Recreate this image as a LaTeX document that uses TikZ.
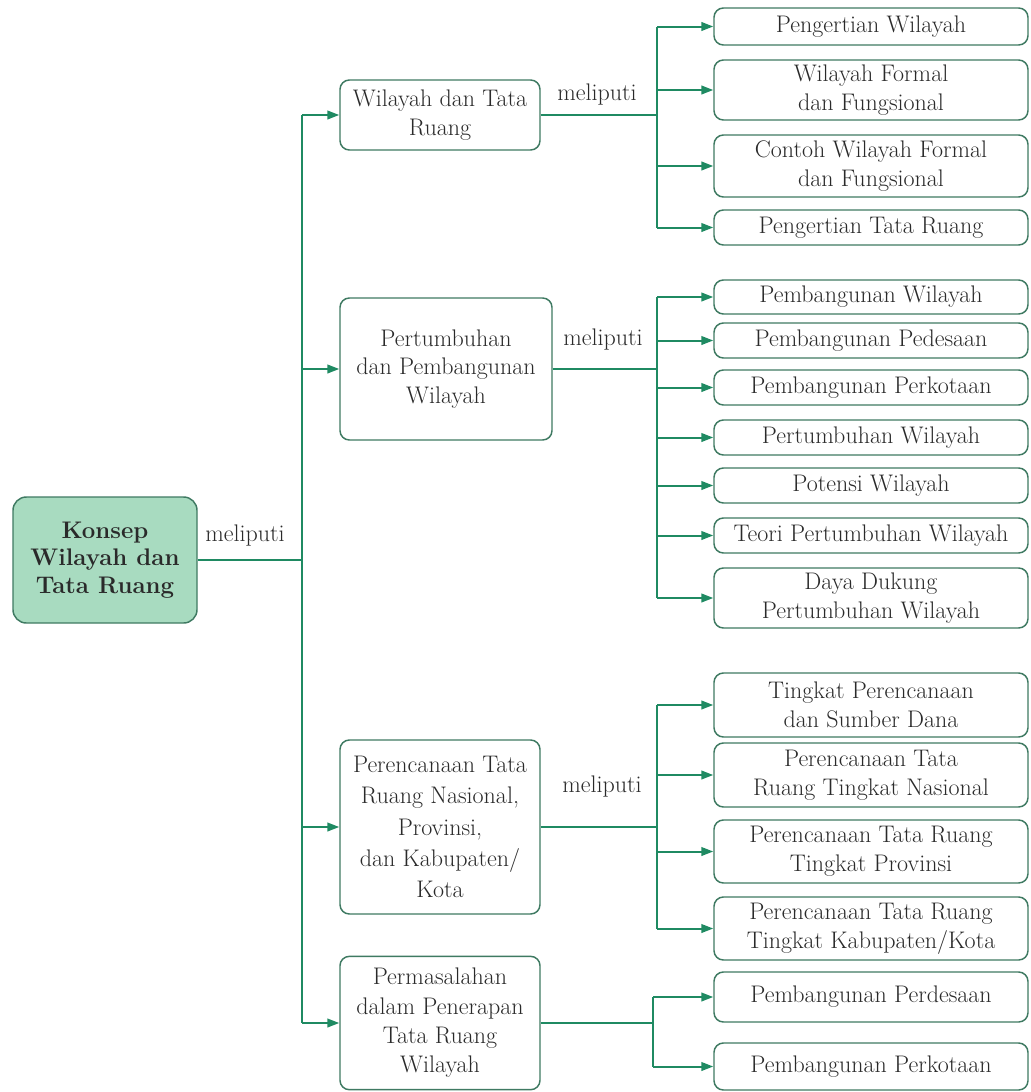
\documentclass[tikz,border=0pt]{standalone}
\usetikzlibrary{arrows.meta}
\definecolor{gline}{HTML}{1F8A62}
\definecolor{gbox}{HTML}{3F7A62}
\definecolor{rootfill}{HTML}{A8DBC0}
\definecolor{txt}{HTML}{2A2A2A}
\begin{document}
\begin{tikzpicture}[x=0.75pt,y=-0.75pt,
  box/.style={draw=gbox, line width=1.1pt, rounded corners=7pt, fill=white, align=center,
    text=txt, font=\fontsize{18}{21.5}\selectfont, inner sep=1pt},
  leaf/.style={box, minimum width=235.5pt},
  mid/.style={box, minimum width=150pt},
  rootbox/.style={box, fill=rootfill, rounded corners=10pt, minimum width=138pt, minimum height=94.5pt,
    font=\bfseries\fontsize{18}{20.5}\selectfont},
  conn/.style={draw=gline, line width=1.5pt},
  arr/.style={conn, -{Triangle[length=9pt,width=6.5pt]}},
  lbl/.style={text=txt, font=\fontsize{18}{21.5}\selectfont, inner sep=0pt}]
\useasboundingbox (0,0) rectangle (1031,1092);

% root
\node[rootbox] (root) at (105,560) {Konsep\\Wilayah dan\\Tata Ruang};
\node[lbl] (l0) at (245,536) {meliputi};

% level 1
\node[mid, minimum height=52.5pt] (A) at (440,115) {Wilayah dan Tata\\Ruang};
\node[box, minimum width=159pt, minimum height=106.5pt] (B) at (446,369) {Pertumbuhan\\dan Pembangunan\\Wilayah};
\node[mid, minimum height=130.5pt, font=\fontsize{18}{23.5}\selectfont] (C) at (440,827) {Perencanaan Tata\\Ruang Nasional,\\Provinsi,\\dan Kabupaten/\\Kota};
\node[mid, minimum height=100pt, font=\fontsize{18}{22}\selectfont] (D) at (440,1023) {Permasalahan\\dalam Penerapan\\Tata Ruang\\Wilayah};

\node[lbl] (lA) at (597,95) {meliputi};
\node[lbl] (lB) at (603,340) {meliputi};
\node[lbl] (lC) at (602,787) {meliputi};

% leaves A
\node[leaf, minimum height=27.75pt] (a1) at (871,26.5) {Pengertian Wilayah};
\node[leaf, minimum height=45pt] (a2) at (871,90) {Wilayah Formal\\dan Fungsional};
\node[leaf, minimum height=46.5pt] (a3) at (871,166) {Contoh Wilayah Formal\\dan Fungsional};
\node[leaf, minimum height=26.25pt] (a4) at (871,227.5) {Pengertian Tata Ruang};

% leaves B
\node[leaf, minimum height=25.5pt] (b1) at (871,297) {Pembangunan Wilayah};
\node[leaf, minimum height=26.25pt] (b2) at (871,340.5) {Pembangunan Pedesaan};
\node[leaf, minimum height=26.25pt] (b3) at (871,387.5) {Pembangunan Perkotaan};
\node[leaf, minimum height=26.25pt] (b4) at (871,437.5) {Pertumbuhan Wilayah};
\node[leaf, minimum height=26.25pt] (b5) at (871,485.5) {Potensi Wilayah};
\node[leaf, minimum height=26.25pt] (b6) at (871,535.5) {Teori Pertumbuhan Wilayah};
\node[leaf, minimum height=45pt] (b7) at (871,598) {Daya Dukung\\Pertumbuhan Wilayah};

% leaves C
\node[leaf, minimum height=48pt] (c1) at (871,705) {Tingkat Perencanaan\\dan Sumber Dana};
\node[leaf, minimum height=48pt] (c2) at (871,775) {Perencanaan Tata\\Ruang Tingkat Nasional};
\node[leaf, minimum height=47.25pt] (c3) at (871,851.5) {Perencanaan Tata Ruang\\Tingkat Provinsi};
\node[leaf, minimum height=47.25pt] (c4) at (871,928.5) {Perencanaan Tata Ruang\\Tingkat Kabupaten/Kota};

% leaves D
\node[leaf, minimum height=37.5pt] (d1) at (871,997) {Pembangunan Perdesaan};
\node[leaf, minimum height=35.25pt] (d2) at (871,1066.5) {Pembangunan Perkotaan};

% junction coordinates
\coordinate (tr) at (302,560);
\coordinate (ja) at (657,0);
\coordinate (jd) at (653,0);

% trunk
\draw[conn] (root.east) -- (tr);
\draw[conn] (tr |- A.west) -- (tr |- D.west);
\foreach \n in {A,B,C,D} \draw[arr] (tr |- \n.west) -- (\n.west);

% branch A
\draw[conn] (A.east) -- (ja |- A.east);
\draw[conn] (ja |- a1.west) -- (ja |- a4.west);
\foreach \n in {a1,a2,a3,a4} \draw[arr] (ja |- \n.west) -- (\n.west);

% branch B
\draw[conn] (B.east) -- (ja |- B.east);
\draw[conn] (ja |- b1.west) -- (ja |- b7.west);
\foreach \n in {b1,b2,b3,b4,b5,b6,b7} \draw[arr] (ja |- \n.west) -- (\n.west);

% branch C
\draw[conn] (C.east) -- (ja |- C.east);
\draw[conn] (ja |- c1.west) -- (ja |- c4.west);
\foreach \n in {c1,c2,c3,c4} \draw[arr] (ja |- \n.west) -- (\n.west);

% branch D
\draw[conn] (D.east) -- (jd |- D.east);
\draw[conn] (jd |- d1.west) -- (jd |- d2.west);
\foreach \n in {d1,d2} \draw[arr] (jd |- \n.west) -- (\n.west);
\end{tikzpicture}
\end{document}
